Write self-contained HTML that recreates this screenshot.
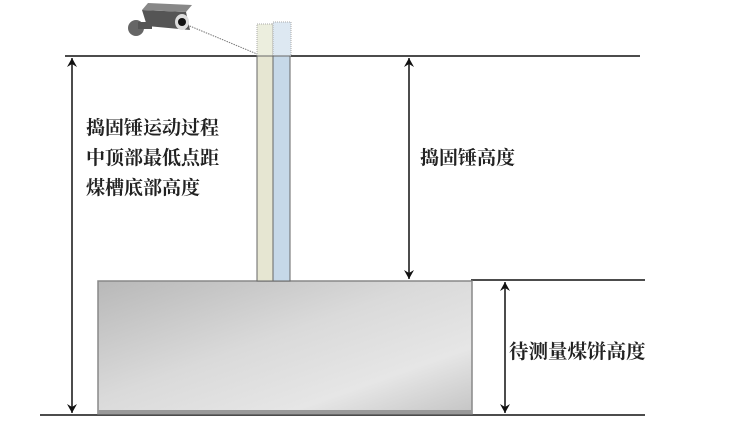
<!DOCTYPE html>
<html><head><meta charset="utf-8"><style>
body{margin:0;background:#fff}
svg text{font-family:"Liberation Serif","Noto Serif CJK SC",serif;fill:#222}
</style></head><body>
<svg width="750" height="422" viewBox="0 0 750 422" xmlns="http://www.w3.org/2000/svg">
<defs>
<linearGradient id="g" x1="0" y1="0" x2="1" y2="1">
<stop offset="0" stop-color="#b8b8b8"/><stop offset="0.45" stop-color="#dadada"/><stop offset="0.75" stop-color="#e6e6e6"/><stop offset="1" stop-color="#c4c4c4"/>
</linearGradient>
<marker id="a" markerWidth="10" markerHeight="10" refX="9" refY="5" orient="auto-start-reverse" markerUnits="userSpaceOnUse"><path d="M0,0 L9,5 L0,10 L3,5 Z" fill="#111"/></marker>
</defs>
<line x1="65" y1="56" x2="640" y2="56" stroke="#111" stroke-width="1.5"/>
<line x1="40" y1="415" x2="645" y2="415" stroke="#111" stroke-width="1.5"/>
<line x1="471" y1="280" x2="645" y2="280" stroke="#111" stroke-width="1.5"/>
<rect x="98" y="281" width="374" height="133" fill="url(#g)" stroke="#888" stroke-width="1.5"/>
<rect x="98" y="410" width="374" height="4" fill="#999"/>
<rect x="257" y="24" width="16" height="32" fill="#eceede" stroke="#aaa" stroke-dasharray="1,1"/>
<rect x="273" y="22" width="18" height="34" fill="#dde8f2" stroke="#aaa" stroke-dasharray="1,1"/>
<rect x="257" y="56" width="16" height="225" fill="#e6e6d2" stroke="#666"/>
<rect x="273" y="56" width="17" height="225" fill="#c6d8e8" stroke="#666"/>
<line x1="185" y1="24" x2="257" y2="54" stroke="#777" stroke-dasharray="1.5,1"/>
<g>
<circle cx="136" cy="28" r="8" fill="#666"/>
<rect x="138" y="22" width="14" height="7" fill="#555"/>
<polygon points="142,10 186,12 190,30 147,26" fill="#555"/>
<polygon points="148,3 192,5 186,12 142,10" fill="#888"/>
<ellipse cx="182" cy="22" rx="7" ry="8" fill="#ddd"/>
<circle cx="182" cy="22" r="4" fill="#111"/>
</g>
<line x1="72" y1="58" x2="72" y2="413" stroke="#111" stroke-width="1.5" marker-start="url(#a)" marker-end="url(#a)"/>
<line x1="409" y1="58" x2="409" y2="279" stroke="#111" stroke-width="1.5" marker-start="url(#a)" marker-end="url(#a)"/>
<line x1="505" y1="282" x2="505" y2="413" stroke="#111" stroke-width="1.5" marker-start="url(#a)" marker-end="url(#a)"/>
<text x="86" y="134" font-size="19" font-weight="bold" fill="#333">捣固锤运动过程</text>
<text x="86" y="164" font-size="19" font-weight="bold">中顶部最低点距</text>
<text x="86" y="194" font-size="19" font-weight="bold">煤槽底部高度</text>
<text x="420" y="164" font-size="19" font-weight="bold">捣固锤高度</text>
<text x="509" y="358" font-size="19.5" font-weight="bold">待测量煤饼高度</text>
</svg>
</body></html>
